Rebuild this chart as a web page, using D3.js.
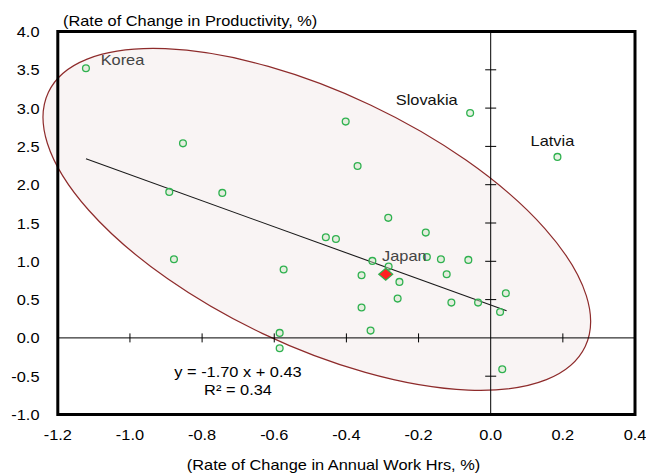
<!DOCTYPE html>
<html><head><meta charset="utf-8">
<script src="https://cdn.jsdelivr.net/npm/d3@7"></script>
<style>body{margin:0;background:#fff}svg{display:block}text{font-family:"Liberation Sans",Arial,sans-serif}</style>
</head><body><svg id="c" width="646" height="473"></svg>
<script>
// ---- data ----
const countryNames = ["Korea","","","","Slovakia","","","Latvia","","","","","","","","","","","","","","","","","","","","","","","",""];
const workHrsChange = [-1.122,-0.853,-0.891,-0.744,-0.057,-0.402,-0.369,0.185,-0.878,-0.574,-0.585,-0.585,-0.284,-0.457,-0.429,-0.180,-0.328,-0.283,-0.177,-0.138,-0.062,-0.358,-0.253,-0.122,-0.258,-0.109,-0.035,0.042,0.026,-0.358,-0.333,0.032];
const productivityChange = [3.52,2.54,1.906,1.893,2.937,2.824,2.245,2.363,1.026,0.892,0.065,-0.136,1.567,1.313,1.292,1.375,1.005,0.931,1.057,1.026,1.018,0.817,0.731,0.830,0.513,0.461,0.461,0.582,0.339,0.396,0.095,-0.410];
const japan = {name:"Japan", x:-0.291, y:0.830};
const slope = -1.70, intercept = 0.43, rSquared = 0.34;
const trendXExtent = [-1.122, 0.044];
const xTicks = [-1.2,-1.0,-0.8,-0.6,-0.4,-0.2,0.0,0.2,0.4];
const yTicks = [4.0,3.5,3.0,2.5,2.0,1.5,1.0,0.5,0.0,-0.5,-1.0];
const ellipseCenter = {x:-0.482, y:1.547};
const xTitle = "(Rate of Change in Annual Work Hrs, %)";
const yTitle = "(Rate of Change in Productivity, %)";

// ---- drawing ----
const SX = 1.17;
const svg = d3.select("#c");
const x = d3.scaleLinear().domain([-1.2,0.4]).range([57.8,635]);
const y = d3.scaleLinear().domain([-1,4]).range([414.5,31.5]);

function txt(px, py, s, anchor, fill, size){
  const g = svg.append("g").attr("transform",`translate(${px},${py}) scale(${SX},1)`);
  return g.append("text").attr("text-anchor",anchor||"start").attr("font-size",size||14)
    .attr("fill",fill||"#000").text(s);
}

// ellipse
svg.append("ellipse")
  .attr("cx",0).attr("cy",0).attr("rx",297).attr("ry",126.4)
  .attr("transform",`translate(${x(ellipseCenter.x)},${y(ellipseCenter.y)}) rotate(25.35)`)
  .attr("fill","#f9f4f4").attr("stroke","#8e2b2b").attr("stroke-width",1.2);

// zero axes
svg.append("line").attr("x1",x(-1.2)).attr("x2",x(0.4)).attr("y1",y(0)).attr("y2",y(0))
  .attr("stroke","#000").attr("stroke-width",1);
svg.append("line").attr("x1",x(0)).attr("x2",x(0)).attr("y1",y(4)).attr("y2",y(-1))
  .attr("stroke","#000").attr("stroke-width",1);
xTicks.filter(v=>v!==0 && v>-1.2 && v<0.4).forEach(v=>{
  svg.append("line").attr("x1",x(v)).attr("x2",x(v)).attr("y1",y(0)-4.5).attr("y2",y(0)+4.5)
    .attr("stroke","#000").attr("stroke-width",1);
});
yTicks.filter(v=>v!==0 && v>-1 && v<4).forEach(v=>{
  svg.append("line").attr("x1",x(0)-5.5).attr("x2",x(0)+5.5).attr("y1",y(v)).attr("y2",y(v))
    .attr("stroke","#000").attr("stroke-width",1);
});

// trend line
svg.append("line")
  .attr("x1",x(trendXExtent[0])).attr("y1",y(slope*trendXExtent[0]+intercept))
  .attr("x2",x(trendXExtent[1])).attr("y2",y(slope*trendXExtent[1]+intercept))
  .attr("stroke","#1a1a1a").attr("stroke-width",1.1);

// points
const pts = workHrsChange.map((v,i)=>({x:v,y:productivityChange[i],name:countryNames[i]}));
svg.append("g").selectAll("circle").data(pts).join("circle")
  .attr("cx",d=>x(d.x)).attr("cy",d=>y(d.y)).attr("r",3.4)
  .attr("fill","rgba(205,228,196,0.45)").attr("stroke","#2fb14f").attr("stroke-width",1.3);

// Japan diamond
{
  const cx = x(japan.x), cy = y(japan.y);
  svg.append("path").attr("d",`M${cx},${cy-6}L${cx+7},${cy}L${cx},${cy+6}L${cx-7},${cy}Z`)
    .attr("fill","#ff2020").attr("stroke","#2fb14f").attr("stroke-width",1.2);
}

// frame
svg.append("rect").attr("x",x(-1.2)).attr("y",y(4)).attr("width",x(0.4)-x(-1.2)).attr("height",y(-1)-y(4))
  .attr("fill","none").attr("stroke","#000").attr("stroke-width",3);

// tick labels
xTicks.forEach(v=>txt(x(v), 439.5, d3.format(".1f")(v).replace("−","-"), "middle"));
yTicks.forEach(v=>txt(39.5, y(v)+5.5, d3.format(".1f")(v).replace("−","-"), "end"));

// titles
txt(63, 26, yTitle, "start");
txt(333.5, 470, xTitle, "middle");

// equation
txt(238, 376.7, `y = ${slope.toFixed(2)} x + ${intercept.toFixed(2)}`, "middle");
txt(238, 395, `R² = ${rSquared.toFixed(2)}`, "middle");

// country labels
const labelPos = {Korea:{dx:14.7,dy:-3,a:"start",c:"#444"}, Slovakia:{dx:-12.5,dy:-8.3,a:"end",c:"#111"}, Latvia:{dx:-5,dy:-10.6,a:"middle",c:"#111"}};
pts.filter(d=>d.name).forEach(d=>{
  const p = labelPos[d.name];
  txt(x(d.x)+p.dx, y(d.y)+p.dy, d.name, p.a, p.c);
});
txt(x(japan.x)-3.7, y(japan.y)-13, japan.name, "start", "#444");
</script></body></html>
